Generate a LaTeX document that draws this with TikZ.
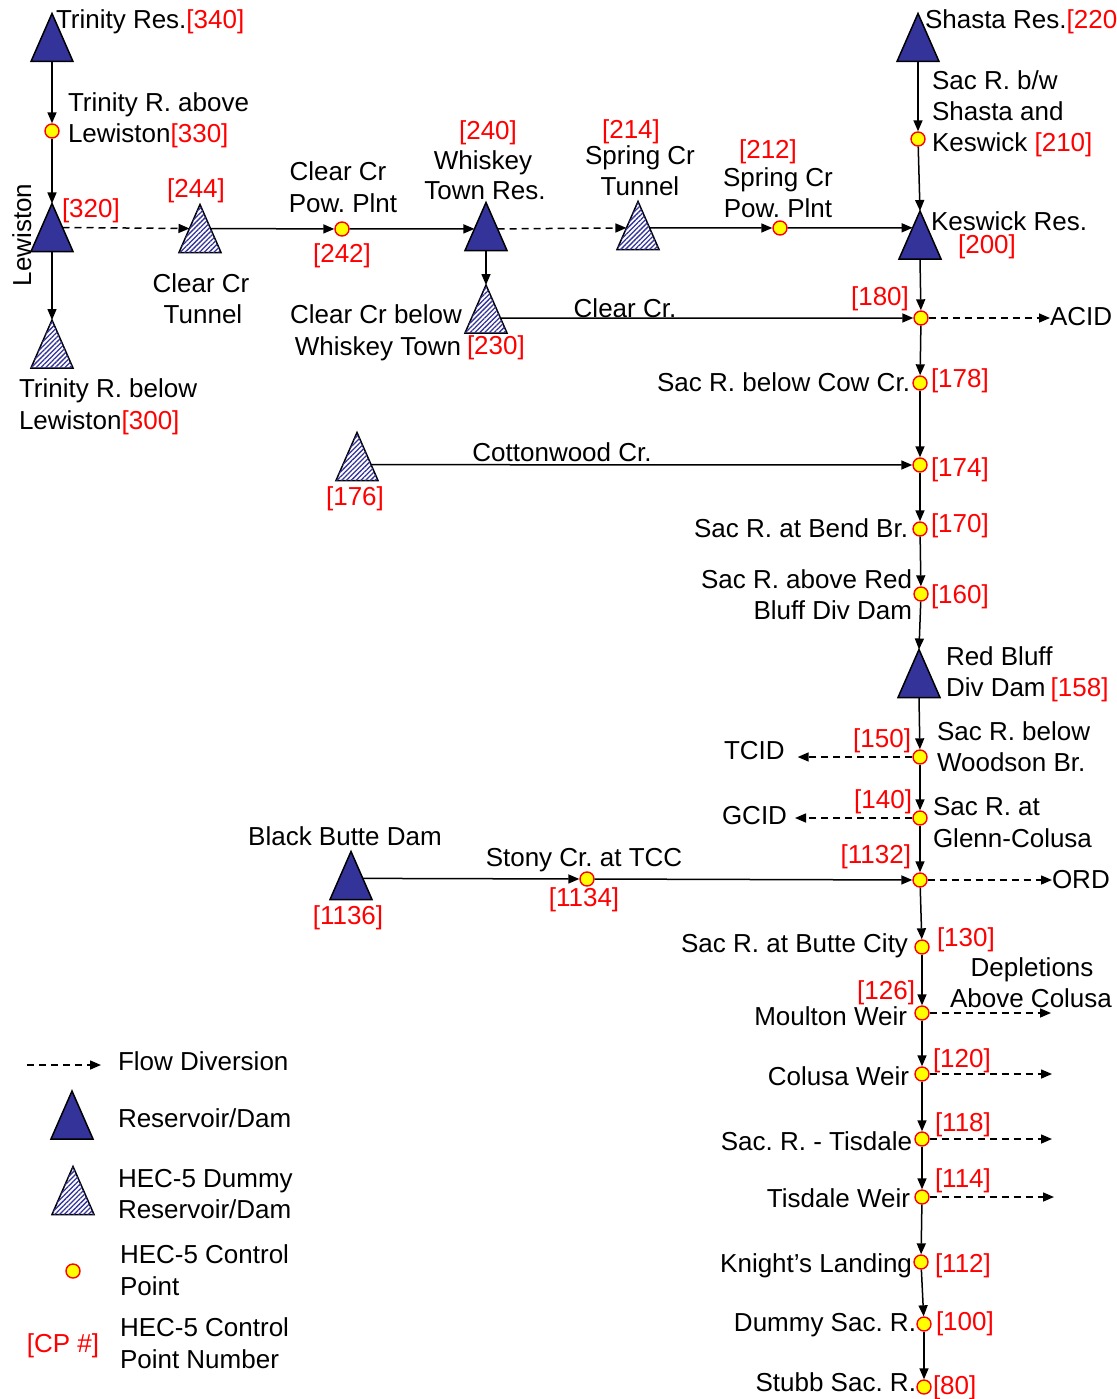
\documentclass[tikz,border=0pt]{standalone}
\usepackage{fontspec}
\setmainfont{Liberation Sans}
\usetikzlibrary{arrows.meta,patterns.meta,calc}
\definecolor{resblue}{RGB}{51,51,153}
\definecolor{cpred}{RGB}{255,0,0}
\definecolor{cpyellow}{RGB}{255,255,0}
\newcommand{\cpn}[1]{\textcolor{cpred}{#1}}
\frenchspacing
\begin{document}
\begin{tikzpicture}[x=1pt,y=-1pt,
  font=\fontsize{26}{31}\selectfont\frenchspacing,
  tri/.style={rectangle, minimum width=42pt, minimum height=48pt, inner sep=0pt, outer sep=0pt},
  cpt/.style={circle, draw=cpred, fill=cpyellow, line width=1.4pt, minimum size=14pt, inner sep=0pt},
  lbl/.style={inner sep=0pt, outer sep=0pt},
  flow/.style={line width=1.5pt, -{Triangle[length=11pt,width=9pt]}},
  div/.style={flow, dash pattern=on 7pt off 5pt},
  resfill/.style={draw=black, line width=1.5pt, fill=resblue},
  dumfill/.style={draw=black, line width=1.5pt, fill=white,
    postaction={pattern={Lines[angle=45,distance=3.4pt,line width=1.3pt]}, pattern color=resblue}},
]
\useasboundingbox (0,0) rectangle (1116,1399);

% ---------- reservoirs / dummy reservoirs ----------
\node[tri] (T340) at (52,37.5) {};
\node[tri] (T320) at (52,227.5) {};
\node[tri] (T300) at (52,344) {};
\node[tri] (T244) at (200,228.5) {};
\node[tri] (T240) at (486,226.5) {};
\node[tri] (T230) at (486,309) {};
\node[tri] (T214) at (638,225.5) {};
\node[tri] (T220) at (918,37.5) {};
\node[tri] (T200) at (920,235) {};
\node[tri] (T176) at (357,456.5) {};
\node[tri] (T158) at (919,673.5) {};
\node[tri] (T1136) at (351,875.5) {};
\node[tri] (LT1) at (72,1115) {};
\node[tri] (LT2) at (73,1190.5) {};

\foreach \t in {T340,T320,T220,T200,T240,T158,T1136,LT1}
  \draw[resfill] (\t.north) -- (\t.south west) -- (\t.south east) -- cycle;
\foreach \t in {T300,T244,T230,T214,T176,LT2}
  \draw[dumfill] (\t.north) -- (\t.south west) -- (\t.south east) -- cycle;

% ---------- control points ----------
\node[cpt] (D330) at (52,131) {};
\node[cpt] (D242) at (342,229) {};
\node[cpt] (D212) at (780,228) {};
\node[cpt] (D210) at (918,139) {};
\node[cpt] (D180) at (921,318) {};
\node[cpt] (D178) at (920,383) {};
\node[cpt] (D174) at (920,465) {};
\node[cpt] (D170) at (920,529) {};
\node[cpt] (D160) at (921,594) {};
\node[cpt] (D150) at (920,757) {};
\node[cpt] (D140) at (920,818) {};
\node[cpt] (D1132) at (920,880) {};
\node[cpt] (D1134) at (587,879) {};
\node[cpt] (D130) at (922,947) {};
\node[cpt] (D126) at (922,1013) {};
\node[cpt] (D120) at (922,1074) {};
\node[cpt] (D118) at (922,1139) {};
\node[cpt] (D114) at (922,1197) {};
\node[cpt] (D112) at (921,1262) {};
\node[cpt] (D100) at (924,1324) {};
\node[cpt] (D80) at (924,1387) {};
\node[cpt] (LD) at (73,1271) {};

\coordinate (E126) at (1051,1013);
\coordinate (E120) at (1052,1074);
\coordinate (E118) at (1052,1139);
\coordinate (E114) at (1054,1197);
\coordinate (LA) at (27,1065);
\coordinate (LB) at (101,1065);

% ---------- labels ----------
\node[lbl, anchor=base west] (n340) at (56,29) {Trinity Res.\cpn{[340]}};
\node[lbl, anchor=base west] (n330a) at (68,112) {Trinity R. above};
\node[lbl, anchor=base west] (n330b) at (68,143) {Lewiston\cpn{[330]}};
\node[lbl, anchor=base west] (n320) at (62,217) {\cpn{[320]}};
\node[lbl, anchor=base, rotate=90] (nlew) at (31,235) {Lewiston};
\node[lbl, anchor=base] (n244) at (196,197) {\cpn{[244]}};
\node[lbl, anchor=base] (n244a) at (201,292) {Clear Cr};
\node[lbl, anchor=base] (n244b) at (203,323) {Tunnel};
\node[lbl, anchor=base west] (n300a) at (19,397) {Trinity R. below};
\node[lbl, anchor=base west] (n300b) at (19,429) {Lewiston\cpn{[300]}};

\node[lbl, anchor=base] (n242a) at (338,181) {Clear Cr};
\node[lbl, anchor=base] (n242b) at (343,212) {Pow. Plnt};
\node[lbl, anchor=base] (n242) at (342,262) {\cpn{[242]}};
\node[lbl, anchor=base] (n240) at (488,140) {\cpn{[240]}};
\node[lbl, anchor=base] (n240a) at (483,170) {Whiskey};
\node[lbl, anchor=base] (n240b) at (485,200) {Town Res.};
\node[lbl, anchor=base east] (n230a) at (462,323) {Clear Cr below};
\node[lbl, anchor=base east] (n230b) at (461,355) {Whiskey Town};
\node[lbl, anchor=base west] (n230) at (467,354) {\cpn{[230]}};
\node[lbl, anchor=base] (n214) at (631,139) {\cpn{[214]}};
\node[lbl, anchor=base] (n214a) at (640,165) {Spring Cr};
\node[lbl, anchor=base] (n214b) at (640,196) {Tunnel};
\node[lbl, anchor=base] (n212) at (768,159) {\cpn{[212]}};
\node[lbl, anchor=base] (n212a) at (778,186) {Spring Cr};
\node[lbl, anchor=base] (n212b) at (778,217) {Pow. Plnt};
\node[lbl, anchor=base] (n230c) at (625,317) {Clear Cr.};

\node[lbl, anchor=base west] (n220) at (925,29) {Shasta Res.\cpn{[220]}};
\node[lbl, anchor=base west] (n210a) at (932,90) {Sac R. b/w};
\node[lbl, anchor=base west] (n210b) at (932,121) {Shasta and};
\node[lbl, anchor=base west] (n210c) at (932,152) {Keswick \cpn{[210]}};
\node[lbl, anchor=base west] (n200a) at (931,230) {Keswick Res.};
\node[lbl, anchor=base] (n200) at (987,253) {\cpn{[200]}};
\node[lbl, anchor=base] (n180) at (880,305) {\cpn{[180]}};
\node[lbl, anchor=base west] (acid) at (1050,325) {ACID};
\node[lbl, anchor=base east] (n178a) at (910,391) {Sac R. below Cow Cr.};
\node[lbl, anchor=base west] (n178) at (931,387) {\cpn{[178]}};
\node[lbl, anchor=base west] (n174) at (931,476) {\cpn{[174]}};
\node[lbl, anchor=base] (n176) at (355,505) {\cpn{[176]}};
\node[lbl, anchor=base] (n176a) at (562,461) {Cottonwood Cr.};
\node[lbl, anchor=base east] (n170a) at (908,537) {Sac R. at Bend Br.};
\node[lbl, anchor=base west] (n170) at (931,532) {\cpn{[170]}};
\node[lbl, anchor=base east] (n160a) at (912,588) {Sac R. above Red};
\node[lbl, anchor=base east] (n160b) at (912,619) {Bluff Div Dam};
\node[lbl, anchor=base west] (n160) at (931,603) {\cpn{[160]}};
\node[lbl, anchor=base west] (n158a) at (946,665) {Red Bluff};
\node[lbl, anchor=base west] (n158b) at (946,696) {Div Dam\hspace{5pt}\cpn{[158]}};
\node[lbl, anchor=base east] (n150) at (911,747) {\cpn{[150]}};
\node[lbl, anchor=base west] (n150a) at (937,740) {Sac R. below};
\node[lbl, anchor=base west] (n150b) at (937,771) {Woodson Br.};
\node[lbl, anchor=base west] (tcid) at (724,759) {TCID};
\node[lbl, anchor=base east] (n140) at (912,808) {\cpn{[140]}};
\node[lbl, anchor=base west] (n140a) at (933,815) {Sac R. at};
\node[lbl, anchor=base west] (n140b) at (933,847) {Glenn-Colusa};
\node[lbl, anchor=base west] (gcid) at (722,824) {GCID};
\node[lbl, anchor=base east] (n1132) at (911,863) {\cpn{[1132]}};
\node[lbl, anchor=base west] (ord) at (1052,888) {ORD};
\node[lbl, anchor=base] (n1136a) at (345,845) {Black Butte Dam};
\node[lbl, anchor=base] (n1136) at (348,924) {\cpn{[1136]}};
\node[lbl, anchor=base] (n1134a) at (584,866) {Stony Cr. at TCC};
\node[lbl, anchor=base] (n1134) at (584,906) {\cpn{[1134]}};
\node[lbl, anchor=base east] (n130a) at (908,952) {Sac R. at Butte City};
\node[lbl, anchor=base west] (n130) at (937,946) {\cpn{[130]}};
\node[lbl, anchor=base] (dep1) at (1032,976) {Depletions};
\node[lbl, anchor=base] (dep2) at (1031,1007) {Above Colusa};
\node[lbl, anchor=base east] (n126) at (915,999) {\cpn{[126]}};
\node[lbl, anchor=base east] (n126a) at (907,1025) {Moulton Weir};
\node[lbl, anchor=base west] (n120) at (933,1067) {\cpn{[120]}};
\node[lbl, anchor=base east] (n120a) at (909,1085) {Colusa Weir};
\node[lbl, anchor=base west] (n118) at (935,1131) {\cpn{[118]}};
\node[lbl, anchor=base east] (n118a) at (912,1150) {Sac. R. - Tisdale};
\node[lbl, anchor=base west] (n114) at (935,1187) {\cpn{[114]}};
\node[lbl, anchor=base east] (n114a) at (910,1207) {Tisdale Weir};
\node[lbl, anchor=base east] (n112a) at (912,1272) {Knight’s Landing};
\node[lbl, anchor=base west] (n112) at (935,1272) {\cpn{[112]}};
\node[lbl, anchor=base east] (n100a) at (916,1331) {Dummy Sac. R.};
\node[lbl, anchor=base west] (n100) at (936,1330) {\cpn{[100]}};
\node[lbl, anchor=base east] (n80a) at (916,1391) {Stubb Sac. R.};
\node[lbl, anchor=base west] (n80) at (933,1394) {\cpn{[80]}};

% legend
\node[lbl, anchor=base west] (lg1) at (118,1070) {Flow Diversion};
\node[lbl, anchor=base west] (lg2) at (118,1127) {Reservoir/Dam};
\node[lbl, anchor=base west] (lg3a) at (118,1187) {HEC-5 Dummy};
\node[lbl, anchor=base west] (lg3b) at (118,1218) {Reservoir/Dam};
\node[lbl, anchor=base west] (lg4a) at (120,1263) {HEC-5 Control};
\node[lbl, anchor=base west] (lg4b) at (120,1295) {Point};
\node[lbl, anchor=base] (lg5) at (63,1352) {\cpn{[CP \#]}};
\node[lbl, anchor=base west] (lg5a) at (120,1336) {HEC-5 Control};
\node[lbl, anchor=base west] (lg5b) at (120,1368) {Point Number};

% ---------- connectors ----------
\draw[flow] (T340.south) -- (D330);
\draw[flow] (D330) -- (T320.north);
\draw[flow] (T320.south) -- (T300.north);
\draw[div] ($(T320.north)!0.5!(T320.south east)$) -- ($(T244.north)!0.5!(T244.south west)$);
\draw[flow] ($(T244.north)!0.5!(T244.south east)$) -- (D242);
\draw[flow] (D242) -- ($(T240.north)!0.55!(T240.south west)$);
\draw[div] ($(T240.north)!0.55!(T240.south east)$) -- ($(T214.north)!0.55!(T214.south west)$);
\draw[flow] ($(T214.north)!0.55!(T214.south east)$) -- (D212);
\draw[flow] (D212) -- ($(T200.north)!0.35!(T200.south west)$);
\draw[flow] (T240.south) -- (T230.north);
\draw[flow] ($(T230.north)!0.69!(T230.south east)$) -- (D180);
\draw[flow] (T220.south) -- (D210);
\draw[flow] (D210) -- (T200.north);
\draw[flow] (T200.south) -- (D180);
\draw[div] (D180) -- (D180 -| acid.west);
\draw[flow] (D180) -- (D178);
\draw[flow] (D178) -- (D174);
\draw[flow] ($(T176.north)!0.67!(T176.south east)$) -- (D174);
\draw[flow] (D174) -- (D170);
\draw[flow] (D170) -- (D160);
\draw[flow] (D160) -- (T158.north);
\draw[flow] (T158.south) -- (D150);
\draw[div] (D150) -- ($(D150 -| tcid.east)+(13,0)$);
\draw[flow] (D150) -- (D140);
\draw[div] (D140) -- ($(D140 -| gcid.east)+(8,0)$);
\draw[flow] (D140) -- (D1132);
\draw[flow] ($(T1136.north)!0.56!(T1136.south east)$) -- (D1134);
\draw[flow] (D1134) -- (D1132);
\draw[div] (D1132) -- (D1132 -| ord.west);
\draw[flow] (D1132) -- (D130);
\draw[flow] (D130) -- (D126);
\draw[div] (D126) -- (D126 -| E126);
\draw[flow] (D126) -- (D120);
\draw[div] (D120) -- (D120 -| E120);
\draw[flow] (D120) -- (D118);
\draw[div] (D118) -- (D118 -| E118);
\draw[flow] (D118) -- (D114);
\draw[div] (D114) -- (D114 -| E114);
\draw[flow] (D114) -- (D112);
\draw[flow] (D112) -- (D100);
\draw[flow] (D100) -- (D80);
\draw[div] (LA) -- (LB);
\end{tikzpicture}
\end{document}
